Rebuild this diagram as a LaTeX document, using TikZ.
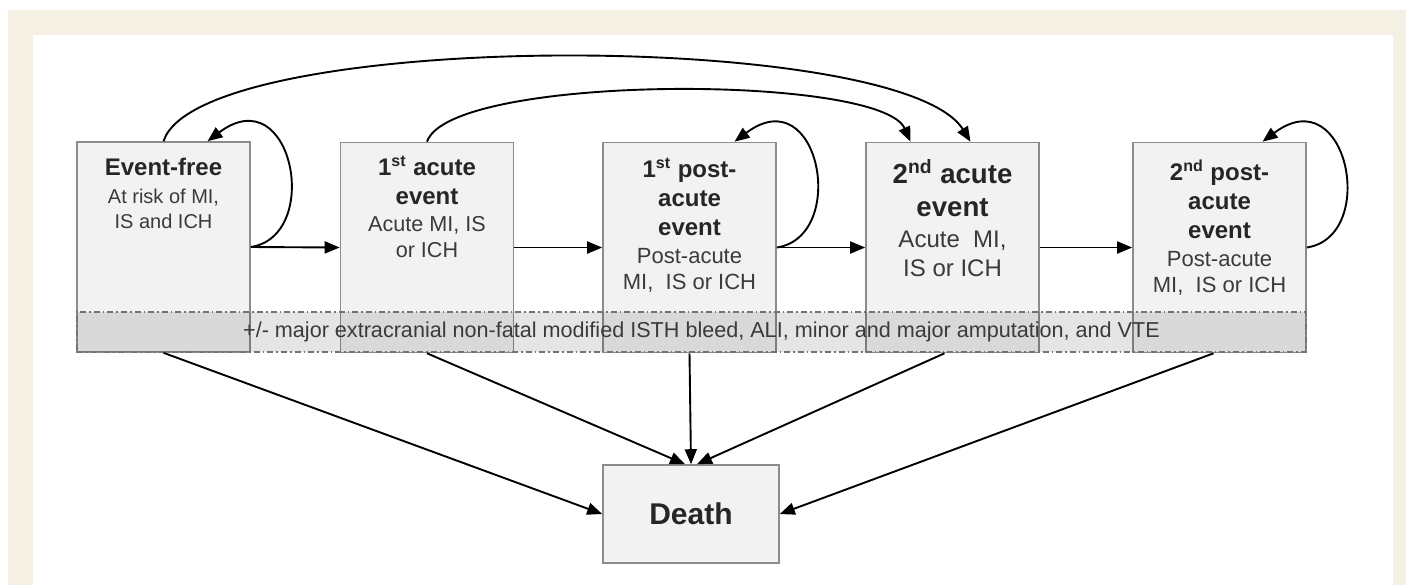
\documentclass[tikz,border=0pt]{standalone}
\usepackage{fontspec}
\setmainfont{Liberation Sans}
\usetikzlibrary{positioning,calc,arrows.meta}
\definecolor{framebeige}{HTML}{F4F0E3}
\definecolor{boxfill}{HTML}{F2F2F2}
\definecolor{boxline}{HTML}{8C8C8C}
\definecolor{textdark}{HTML}{262626}
\definecolor{textsub}{HTML}{3A3A3A}
\tikzset{
  statebox/.style={draw=boxline, fill=boxfill, line width=0.8pt, minimum width=86.5pt, minimum height=105pt, inner sep=0pt},
  headtext/.style={font=\fontsize{12}{14.5}\selectfont\bfseries, text=textdark, align=center, inner sep=0pt},
  subtext/.style={font=\fontsize{11}{13}\selectfont, text=textsub, align=center, inner sep=0pt},
  band/.style={draw=gray!90!black, line width=0.7pt, dash pattern=on 3pt off 1.5pt on 0.8pt off 1.5pt, fill=black, fill opacity=0.1, minimum width=614.5pt, minimum height=20pt, inner sep=0pt},
  bandtext/.style={font=\fontsize{10.8}{12}\selectfont, text=textsub, inner sep=0pt},
  flow/.style={line width=0.95pt, -{Triangle[length=7.5pt,width=6pt]}}
}
\begin{document}
\begin{tikzpicture}[x=0.5pt, y=-0.5pt]
    % page and frame
    \useasboundingbox (0,0) rectangle (1406,585);
    \fill[white] (0,0) rectangle (1406,585);
    \fill[framebeige] (8,10) rectangle (1406,585);
    \fill[white] (33,35) rectangle (1393,585);

    % states
    \node[statebox] (free) at (163.5,247) {};
    \node[statebox] (acute1) at (427,247.5) {};
    \node[statebox] (post1) at (689.5,247.5) {};
    \node[statebox] (acute2) at (952.5,247.5) {};
    \node[statebox] (post2) at (1219.5,247.5) {};
    \node[statebox, minimum width=88pt, minimum height=49pt] (death) at (691,514) {\fontsize{15}{18}\selectfont\bfseries\color{textdark}Death};

    % state labels
    \node[headtext, below=8.25pt of free.north] (free-h) {Event-free};
    \node[subtext, font=\fontsize{10}{12.5}\selectfont, below=6pt of free-h] (free-s) {At risk of MI,\\IS and ICH};
    \node[headtext, below=7pt of acute1.north] (acute1-h) {1\textsuperscript{st} acute\\event};
    \node[subtext, font=\fontsize{10.8}{13}\selectfont, below=5.5pt of acute1-h] (acute1-s) {Acute MI, IS\\or ICH};
    \node[headtext, below=8pt of post1.north] (post1-h) {1\textsuperscript{st} post-\\acute\\event};
    \node[subtext, below=6pt of post1-h] (post1-s) {Post-acute\\MI,\ \ IS or ICH};
    \node[headtext, font=\fontsize{13.8}{16.5}\selectfont\bfseries, below=8.5pt of acute2.north] (acute2-h) {2\textsuperscript{nd} acute\\event};
    \node[subtext, font=\fontsize{12}{14.5}\selectfont, below=6.5pt of acute2-h] (acute2-s) {Acute\ \ MI,\\IS or ICH};
    \node[headtext, below=9pt of post2.north] (post2-h) {2\textsuperscript{nd} post-\\acute\\event};
    \node[subtext, below=6pt of post2-h] (post2-s) {Post-acute\\MI,\ \ IS or ICH};

    % bleeding band across all states
    \node[band] (bleed) at (691.5,332) {};
    \node[bandtext] (bleed-t) at ([xshift=5pt]bleed.center) {+/- major extracranial non-fatal modified ISTH bleed, ALI, minor and major amputation, and VTE};

    % progression
    \draw[flow] (free.east) -- (acute1.west);
    \draw[flow] (acute1.east) -- (post1.west);
    \draw[flow] (post1.east) -- (acute2.west);
    \draw[flow] (acute2.east) -- (post2.west);

    % staying in a state
    \draw[flow] (free.east) .. controls +(72,-11) and +(85,-64) .. ([xshift=22pt]free.north);
    \draw[flow] (post1.east) .. controls +(72,-11) and +(85,-64) .. ([xshift=22.5pt]post1.north);
    \draw[flow] (post2.east) .. controls +(72,-11) and +(85,-64) .. ([xshift=21.5pt]post2.north);

    % jumps to the 2nd acute event
    \draw[flow] (free.north) .. controls +(36,-112) and +(-70,-113) .. ([xshift=9pt]acute2.north);
    \draw[flow] (acute1.north) .. controls +(23,-68) and +(-30,-68) .. ([xshift=-21pt]acute2.north);

    % death from every state
    \draw[flow] (free.south) -- (death.west);
    \draw[flow] (acute1.south) -- ([xshift=-3pt]death.north);
    \draw[flow] (post1.south) -- (death.north);
    \draw[flow] ([xshift=-4pt]acute2.south) -- ([xshift=3pt]death.north);
    \draw[flow] ([xshift=-3pt]post2.south) -- (death.east);
\end{tikzpicture}
\end{document}
